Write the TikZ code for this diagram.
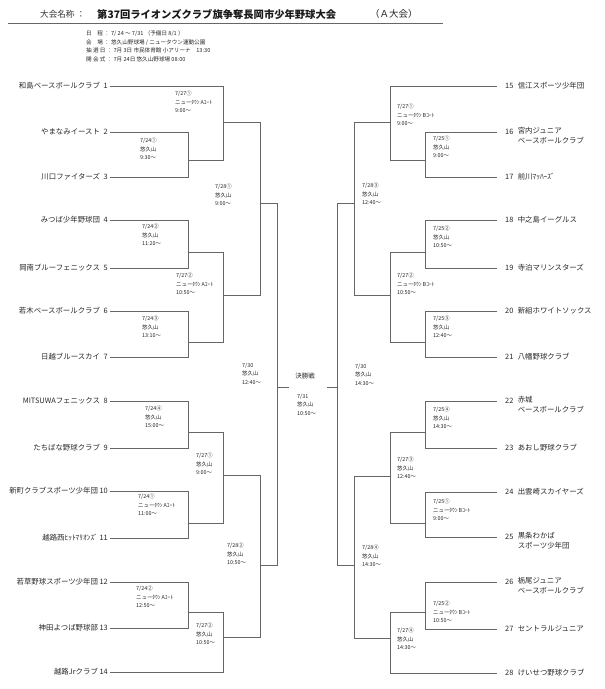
\documentclass[tikz,border=0pt]{standalone}
\usepackage{fontspec}
\setmainfont{Noto Sans CJK JP}
\usepackage{tikz}
\usetikzlibrary{calc}
\usetikzlibrary{positioning}
\tikzstyle{lteam} = [draw=none, anchor=east, inner sep = 2, text=black!85, font=\fontsize{7.4}{9}\selectfont]
\tikzstyle{rteam} = [draw=none, anchor=west, inner sep = 2, text=black!85, font=\fontsize{7.4}{9}\selectfont]
\tikzstyle{rname} = [draw=none, align=left, inner xsep = 2, inner ysep = 0, text=black!85, font=\fontsize{7.4}{10.5}\selectfont]
\tikzstyle{game} = [draw=none, anchor=north west, align=left, inner sep = 0, text=black!85, font=\fontsize{5.4}{8.5}\selectfont]
\tikzstyle{br} = [-, draw = black!60, line width = 0.7]

\begin{document}
\begin{tikzpicture}[x=1pt, y=-1pt]
\useasboundingbox (0,0) rectangle (605,689);
% header
\node [draw=none, anchor=west, inner sep = 0, text=black!80, font=\fontsize{8.6}{10}\selectfont] (head) at (40, 14) {大会名称 ：};
\node [draw=none, anchor=west, inner sep = 0, text=black!90, font=\fontsize{10.3}{12}\selectfont\bfseries] (title) at (97, 14) {第37回ライオンズクラブ旗争奪長岡市少年野球大会};
\node [draw=none, anchor=west, inner sep = 0, text=black!85, font=\fontsize{9.5}{12}\selectfont] (grade) at (370, 14) {（Ａ大会）};
\coordinate (ulA) at (8, 23);
\coordinate (ulB) at (443, 23);
\draw [br] (ulA) -- (ulB);
\node [game, font=\fontsize{5.6}{8.4}\selectfont] (info) at (86, 31) {日　程 ： 7/ 24 〜 7/31 （予備日 8/1 ）\\会　場 ： 悠久山野球場 / ニュータウン運動公園\\抽 選 日 ： 7月 3日 市民体育館 小アリーナ　13:30\\開 会 式 ： 7月 24日 悠久山野球場 08:00};

% left teams
\node [lteam] (t1) at (110, 86) {和島ベースボールクラブ\enspace 1};
\node [lteam] (t2) at (110, 132) {やまなみイースト\enspace 2};
\node [lteam] (t3) at (110, 177) {川口ファイターズ\enspace 3};
\node [lteam] (t4) at (110, 220) {みつば少年野球団\enspace 4};
\node [lteam] (t5) at (110, 268) {岡南ブルーフェニックス\enspace 5};
\node [lteam] (t6) at (110, 311) {若木ベースボールクラブ\enspace 6};
\node [lteam] (t7) at (110, 357) {日越ブルースカイ\enspace 7};
\node [lteam] (t8) at (110, 401) {MITSUWAフェニックス\enspace 8};
\node [lteam] (t9) at (110, 448) {たちばな野球クラブ\enspace 9};
\node [lteam] (t10) at (110, 491) {新町クラブスポーツ少年団 10};
\node [lteam] (t11) at (110, 538) {越路西ﾋｯﾄﾏﾘｵﾝｽﾞ 11};
\node [lteam] (t12) at (110, 582) {若草野球スポーツ少年団 12};
\node [lteam] (t13) at (110, 628) {神田よつば野球部 13};
\node [lteam] (t14) at (110, 672) {越路Jrクラブ 14};

% right teams
\node [rteam] (t15) at (497, 86) {\hspace{6pt}15};
\node [rname, right = 0pt of t15] (n15) {信江スポーツ少年団};
\node [rteam] (t16) at (497, 132) {\hspace{6pt}16};
\node [rname, below right = -5pt and 0pt of t16.east] (n16) {宮内ジュニア\\ベースボールクラブ};
\node [rteam] (t17) at (497, 177) {\hspace{6pt}17};
\node [rname, right = 0pt of t17] (n17) {前川ﾏｯﾊｰｽﾞ};
\node [rteam] (t18) at (497, 220) {\hspace{6pt}18};
\node [rname, right = 0pt of t18] (n18) {中之島イーグルス};
\node [rteam] (t19) at (497, 268) {\hspace{6pt}19};
\node [rname, right = 0pt of t19] (n19) {寺泊マリンスターズ};
\node [rteam] (t20) at (497, 311) {\hspace{6pt}20};
\node [rname, right = 0pt of t20] (n20) {新組ホワイトソックス};
\node [rteam] (t21) at (497, 357) {\hspace{6pt}21};
\node [rname, right = 0pt of t21] (n21) {八幡野球クラブ};
\node [rteam] (t22) at (497, 401) {\hspace{6pt}22};
\node [rname, below right = -5pt and 0pt of t22.east] (n22) {赤城\\ベースボールクラブ};
\node [rteam] (t23) at (497, 448) {\hspace{6pt}23};
\node [rname, right = 0pt of t23] (n23) {あおし野球クラブ};
\node [rteam] (t24) at (497, 492) {\hspace{6pt}24};
\node [rname, right = 0pt of t24] (n24) {出雲崎スカイヤーズ};
\node [rteam] (t25) at (497, 537) {\hspace{6pt}25};
\node [rname, below right = -5pt and 0pt of t25.east] (n25) {黒条わかば\\スポーツ少年団};
\node [rteam] (t26) at (497, 582) {\hspace{6pt}26};
\node [rname, below right = -5pt and 0pt of t26.east] (n26) {栃尾ジュニア\\ベースボールクラブ};
\node [rteam] (t27) at (497, 629) {\hspace{6pt}27};
\node [rname, right = 0pt of t27] (n27) {セントラルジュニア};
\node [rteam] (t28) at (497, 673) {\hspace{6pt}28};
\node [rname, right = 0pt of t28] (n28) {けいせつ野球クラブ};

% left bracket
\coordinate (w23) at (188, 160);
\coordinate (w13) at (223, 122);
\coordinate (w45) at (188, 252);
\coordinate (w67) at (188, 342);
\coordinate (w47) at (223, 295);
\coordinate (w17) at (260, 203);
\coordinate (w89) at (188, 432);
\coordinate (w1011) at (188, 523);
\coordinate (w811) at (223, 475);
\coordinate (w1213) at (188, 612);
\coordinate (w1214) at (223, 637);
\coordinate (w814) at (260, 565);
\coordinate (fL) at (277, 387);
\coordinate (fLe) at (289, 387);
\draw [br] (t2.east) -| (w23);
\draw [br] (t3.east) -| (w23);
\draw [br] (t1.east) -| (w13);
\draw [br] (w23) -| (w13);
\draw [br] (t4.east) -| (w45);
\draw [br] (t5.east) -| (w45);
\draw [br] (t6.east) -| (w67);
\draw [br] (t7.east) -| (w67);
\draw [br] (w45) -| (w47);
\draw [br] (w67) -| (w47);
\draw [br] (w13) -| (w17);
\draw [br] (w47) -| (w17);
\draw [br] (t8.east) -| (w89);
\draw [br] (t9.east) -| (w89);
\draw [br] (t10.east) -| (w1011);
\draw [br] (t11.east) -| (w1011);
\draw [br] (w89) -| (w811);
\draw [br] (w1011) -| (w811);
\draw [br] (t12.east) -| (w1213);
\draw [br] (t13.east) -| (w1213);
\draw [br] (w1213) -| (w1214);
\draw [br] (t14.east) -| (w1214);
\draw [br] (w811) -| (w814);
\draw [br] (w1214) -| (w814);
\draw [br] (w17) -| (fL);
\draw [br] (w814) -| (fL);
\draw [br] (fL) -- (fLe);

% right bracket
\coordinate (w1617) at (425, 160);
\coordinate (w1517) at (390, 122);
\coordinate (w1819) at (425, 252);
\coordinate (w2021) at (425, 342);
\coordinate (w1821) at (390, 295);
\coordinate (w1521) at (354, 203);
\coordinate (w2223) at (425, 432);
\coordinate (w2425) at (425, 523);
\coordinate (w2225) at (390, 476);
\coordinate (w2627) at (425, 612);
\coordinate (w2628) at (390, 638);
\coordinate (w2228) at (354, 565);
\coordinate (fR) at (337, 387);
\coordinate (fRe) at (327, 387);
\draw [br] (t16.west) -| (w1617);
\draw [br] (t17.west) -| (w1617);
\draw [br] (t15.west) -| (w1517);
\draw [br] (w1617) -| (w1517);
\draw [br] (t18.west) -| (w1819);
\draw [br] (t19.west) -| (w1819);
\draw [br] (t20.west) -| (w2021);
\draw [br] (t21.west) -| (w2021);
\draw [br] (w1819) -| (w1821);
\draw [br] (w2021) -| (w1821);
\draw [br] (w1517) -| (w1521);
\draw [br] (w1821) -| (w1521);
\draw [br] (t22.west) -| (w2223);
\draw [br] (t23.west) -| (w2223);
\draw [br] (t24.west) -| (w2425);
\draw [br] (t25.west) -| (w2425);
\draw [br] (w2223) -| (w2225);
\draw [br] (w2425) -| (w2225);
\draw [br] (t26.west) -| (w2627);
\draw [br] (t27.west) -| (w2627);
\draw [br] (w2627) -| (w2628);
\draw [br] (t28.west) -| (w2628);
\draw [br] (w2225) -| (w2228);
\draw [br] (w2628) -| (w2228);
\draw [br] (w1521) -| (fR);
\draw [br] (w2228) -| (fR);
\draw [br] (fR) -- (fRe);

% left games
\node [game] (g1) at (175, 91) {7/27①\\ニューﾀｳﾝ Aｺｰﾄ\\9:00〜};
\node [game] (g2) at (140, 138) {7/24①\\悠久山\\9:30〜};
\node [game] (g3) at (215, 184) {7/28①\\悠久山\\9:00〜};
\node [game] (g4) at (142, 224) {7/24②\\悠久山\\11:20〜};
\node [game] (g5) at (176, 273) {7/27②\\ニューﾀｳﾝ Aｺｰﾄ\\10:50〜};
\node [game] (g6) at (142, 316) {7/24③\\悠久山\\13:10〜};
\node [game] (g7) at (242, 363) {7/30\\悠久山\\12:40〜};
\node [game] (g8) at (145, 406) {7/24④\\悠久山\\15:00〜};
\node [game] (g9) at (196, 453) {7/27①\\悠久山\\9:00〜};
\node [game] (g10) at (138, 494) {7/24①\\ニューﾀｳﾝ Aｺｰﾄ\\11:00〜};
\node [game] (g11) at (227, 543) {7/28②\\悠久山\\10:50〜};
\node [game] (g12) at (136, 586) {7/24②\\ニューﾀｳﾝ Aｺｰﾄ\\12:50〜};
\node [game] (g13) at (196, 623) {7/27②\\悠久山\\10:50〜};

% final
\node [draw=none, inner sep = 0, text=black!85, font=\fontsize{6.5}{8}\selectfont] (final) at (305, 376) {決勝戦};
\node [game] (g27) at (297, 394) {7/31\\悠久山\\10:50〜};

% right games
\node [game] (g14) at (397, 104) {7/27①\\ニューﾀｳﾝ Bｺｰﾄ\\9:00〜};
\node [game] (g15) at (433, 136) {7/25①\\悠久山\\9:00〜};
\node [game] (g16) at (362, 183) {7/28③\\悠久山\\12:40〜};
\node [game] (g17) at (433, 226) {7/25②\\悠久山\\10:50〜};
\node [game] (g18) at (397, 273) {7/27②\\ニューﾀｳﾝ Bｺｰﾄ\\10:50〜};
\node [game] (g19) at (433, 316) {7/25③\\悠久山\\12:40〜};
\node [game] (g20) at (355, 364) {7/30\\悠久山\\14:30〜};
\node [game] (g21) at (433, 407) {7/25④\\悠久山\\14:30〜};
\node [game] (g22) at (397, 457) {7/27③\\悠久山\\12:40〜};
\node [game] (g23) at (433, 499) {7/25①\\ニューﾀｳﾝ Bｺｰﾄ\\9:00〜};
\node [game] (g24) at (362, 545) {7/28④\\悠久山\\14:30〜};
\node [game] (g25) at (433, 601) {7/25②\\ニューﾀｳﾝ Bｺｰﾄ\\10:50〜};
\node [game] (g26) at (397, 628) {7/27④\\悠久山\\14:30〜};
\end{tikzpicture}
\end{document}
